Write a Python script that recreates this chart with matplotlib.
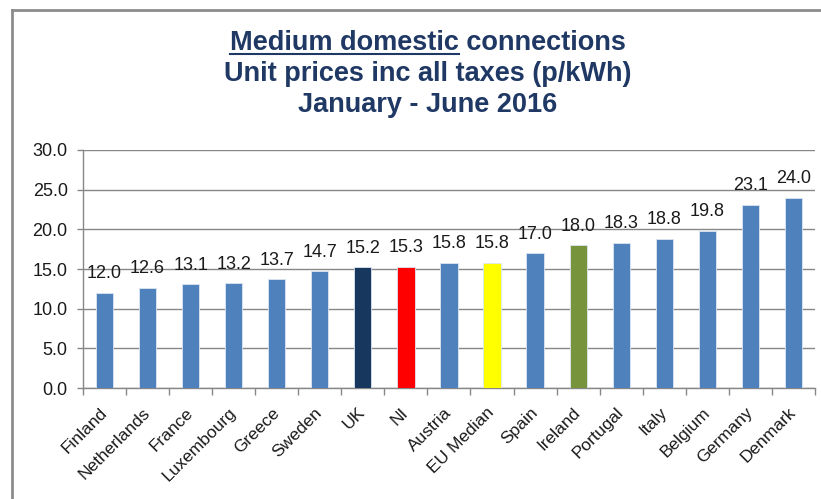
import matplotlib
matplotlib.use("Agg")
import matplotlib.pyplot as plt
from matplotlib.lines import Line2D
import numpy as np

countries = ['Finland', 'Netherlands', 'France', 'Luxembourg', 'Greece', 'Sweden',
             'UK', 'NI', 'Austria', 'EU Median', 'Spain', 'Ireland', 'Portugal',
             'Italy', 'Belgium', 'Germany', 'Denmark']
prices = [12.0, 12.6, 13.1, 13.2, 13.7, 14.7, 15.2, 15.3, 15.8, 15.8, 17.0, 18.0,
          18.3, 18.8, 19.8, 23.1, 24.0]
highlight = {'UK': '#17375E', 'NI': '#FF0000', 'EU Median': '#FFFF00', 'Ireland': '#77933C'}
base_colour = '#4F81BD'

plt.rcParams['font.family'] = ['Liberation Sans', 'DejaVu Sans']

fig = plt.figure(figsize=(8.21, 4.99), dpi=100)
ax = fig.add_axes([0.101, 0.2224, 0.8917, 0.477])

x = np.arange(len(countries))
colours = [highlight.get(c, base_colour) for c in countries]
ax.bar(x, prices, width=0.4, color=colours, edgecolor='#DCE6F2', linewidth=0.6, zorder=3)

for xi, v in zip(x, prices):
    ax.annotate('%.1f' % v, (xi, v), xytext=(0, 10.5), textcoords='offset points',
                ha='center', va='baseline', fontsize=13, color='#1A1A1A')

ax.set_xlim(-0.5, len(countries) - 0.5)
ax.set_ylim(0, 30)
ax.set_yticks(np.arange(0, 31, 5))
ax.set_yticklabels(['%.1f' % t for t in np.arange(0, 31, 5)], fontsize=13, color='#1A1A1A')
ax.yaxis.grid(True, color='#878787', linewidth=1, zorder=0)

ax.set_xticks(x)
ax.set_xticklabels(countries, rotation=45, ha='right', va='center',
                   rotation_mode='anchor', fontsize=12.5, color='#1A1A1A')
ax.set_xticks(np.arange(-0.5, len(countries), 1), minor=True)
ax.tick_params(axis='x', which='major', length=0, pad=16)
ax.tick_params(axis='x', which='minor', length=5, color='#878787', width=1)
ax.tick_params(axis='y', length=4, color='#878787', width=1, pad=7)

for s in ['top', 'right']:
    ax.spines[s].set_visible(False)
for s in ['left', 'bottom']:
    ax.spines[s].set_color('#878787')
    ax.spines[s].set_linewidth(1)

# outer chart frame (top and left edges visible)
fig.add_artist(Line2D([12 / 821, 1], [1 - 10 / 499, 1 - 10 / 499], color='#8C8C8C', linewidth=2,
                      transform=fig.transFigure))
fig.add_artist(Line2D([12 / 821, 12 / 821], [0, 1 - 10 / 499], color='#8C8C8C', linewidth=2,
                      transform=fig.transFigure))

title_font = ['Liberation Sans Narrow', 'Liberation Sans', 'DejaVu Sans']
tcol = '#1F3864'
tsize = 19.5
cx = 428 / 821
t1 = fig.text(cx, 1 - 43 / 499, 'Medium domestic connections', ha='center', va='center',
              fontsize=tsize, fontweight='bold', color=tcol, family=title_font)
fig.text(cx, 1 - 74 / 499, 'Unit prices inc all taxes (p/kWh)', ha='center', va='center',
         fontsize=tsize, fontweight='bold', color=tcol, family=title_font)
fig.text(cx, 1 - 105 / 499, 'January - June 2016', ha='center', va='center',
         fontsize=tsize, fontweight='bold', color=tcol, family=title_font)

# underline under "Medium domestic"
fig.canvas.draw()
r = fig.canvas.get_renderer()
bb = t1.get_window_extent(r)
probe = fig.text(0, 0, 'Medium domestic', fontsize=tsize, fontweight='bold', family=title_font)
pw = probe.get_window_extent(r).width
probe.remove()
W, H = fig.bbox.width, fig.bbox.height
uy = (bb.y0 + 2) / H
fig.add_artist(Line2D([bb.x0 / W, (bb.x0 + pw) / W], [uy, uy], color=tcol, linewidth=1.5,
                      transform=fig.transFigure))

fig.savefig('out.png', dpi=100)
